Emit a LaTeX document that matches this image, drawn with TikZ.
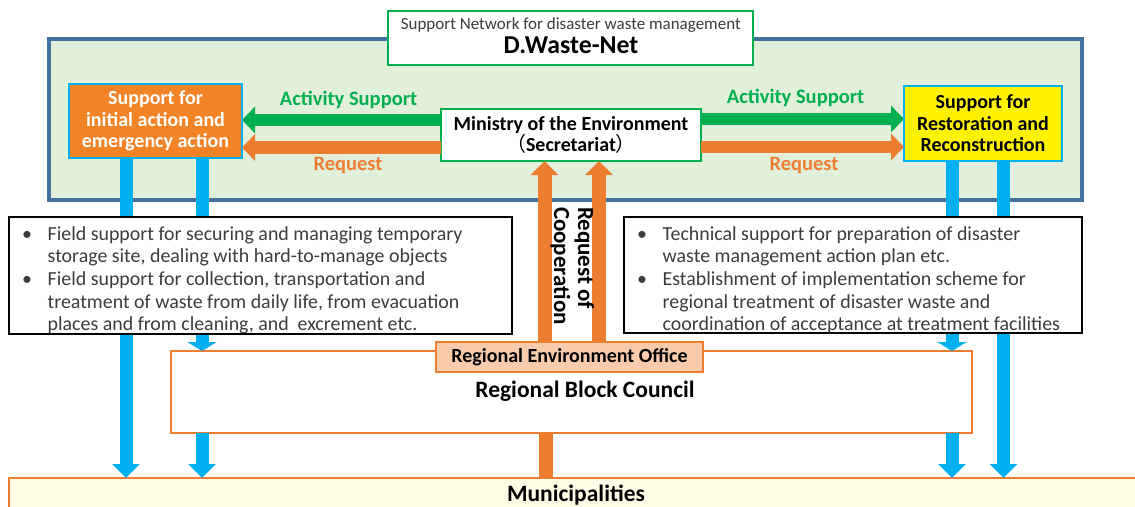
\documentclass[tikz,border=0pt]{standalone}
\usepackage{fontspec}
\setmainfont{Carlito}
\newfontfamily\cjk{Noto Sans CJK JP}
\usetikzlibrary{arrows.meta,calc}

\definecolor{netgreen}{HTML}{00B050}
\definecolor{reqorange}{HTML}{ED7D31}
\definecolor{boxorange}{HTML}{F28326}
\definecolor{skyblue}{HTML}{00B0F0}
\definecolor{netfill}{HTML}{E2EFDA}
\definecolor{netline}{HTML}{41719C}
\definecolor{officefill}{HTML}{F8CBAD}
\definecolor{munifill}{HTML}{FFFDE5}
\definecolor{bodygray}{HTML}{3C3C3C}

\newcommand\fsz[2]{\fontsize{#1}{#2}\selectfont}

\begin{document}
\begin{tikzpicture}[x=1pt,y=-1pt,
  every node/.style={inner sep=0pt,outer sep=0pt},
  plainbox/.style={draw,fill=white,line width=2pt},
  supportbox/.style={draw=skyblue,line width=2pt,align=center,font=\fsz{20}{21.5}\bfseries},
  listbox/.style={draw=black,fill=white,line width=2.5pt},
  listtext/.style={align=left,anchor=north west,text=bodygray,font=\fsz{19.9}{22.6}},
  orangebox/.style={draw=reqorange,line width=2pt},
  flowlabel/.style={anchor=base,font=\fsz{20.5}{24}\bfseries},
  hflow/.style={line width=12.5pt,-{Triangle[length=13pt,width=26pt]}},
  vflow/.style={draw=skyblue,line width=13pt,-{Triangle[length=14pt,width=27pt]}},
  vflowshort/.style={draw=skyblue,line width=13pt,-{Triangle[length=9pt,width=29pt]}},
  upflow/.style={draw=reqorange,line width=14pt,-{Triangle[length=14pt,width=27pt]}},
  titlefont/.style={anchor=base,font=\fsz{23.5}{26}\bfseries}]

\useasboundingbox (0,0) rectangle (1135,506);
\clip (0,0) rectangle (1135,506);

% network frame and its title
\node[draw=netline,fill=netfill,line width=3.5pt,minimum width=1033pt,minimum height=161pt] (net) at (565.5,119.5) {};
\node[plainbox,draw=netgreen,minimum width=365pt,minimum height=54pt] (title) at (570.5,38) {};
\node[anchor=base,font=\fsz{17}{20},text=bodygray] (titlesub) at (570.75,29.3) {Support Network for disaster waste management};
\node[anchor=base,font=\fsz{25.8}{28}\bfseries] (titlemain) at (571,53.3) {D.Waste-Net};

% support teams and the ministry
\node[supportbox,fill=boxorange,text=white,minimum width=173pt,minimum height=74pt] (initial) at (155.5,121) {Support for\\initial action and\\emergency action};
\node[supportbox,fill=yellow,minimum width=158pt,minimum height=75pt] (restore) at (983,123.5) {Support for\\Restoration and\\Reconstruction};
\node[plainbox,draw=netgreen,minimum width=260pt,minimum height=52pt,align=center,font=\fsz{20}{21}\bfseries] (ministry) at (571,135) {Ministry of the Environment\\{\cjk\mdseries （}Secretariat{\cjk\mdseries ）}};

% activity support and requests
\draw[hflow,draw=netgreen] ($(ministry.west)+(0,-15)$) coordinate (gl) -- (gl -| initial.east);
\draw[hflow,draw=reqorange] ($(ministry.west)+(0,12.5)$) coordinate (ol) -- (ol -| initial.east);
\draw[hflow,draw=netgreen] ($(ministry.east)+(0,-16)$) coordinate (gr) -- (gr -| restore.west);
\draw[hflow,draw=reqorange] ($(ministry.east)+(0,12)$) coordinate (or) -- (or -| restore.west);
\node[flowlabel,text=netgreen] (actleft) at (348.5,105) {Activity Support};
\node[flowlabel,text=netgreen] (actright) at (795.5,103) {Activity Support};
\node[flowlabel,text=reqorange] (reqleft) at (348,170) {Request};
\node[flowlabel,text=reqorange] (reqright) at (804,170) {Request};

% lower boxes
\node[orangebox,fill=white,minimum width=801pt,minimum height=82pt] (council) at (571.5,392) {};
\node[orangebox,fill=munifill,minimum width=1134pt,minimum height=30pt] (muni) at (576,493) {};

% field support flows
\draw[vflow] ($(initial.south)+(-29.5,0)$) coordinate (b1) -- (b1 |- muni.north);
\draw[vflowshort] ($(initial.south)+(46.5,0)$) coordinate (b2) -- (b2 |- council.north);
\draw[vflow] ($(council.south)+(-369.5,0)$) coordinate (b3) -- (b3 |- muni.north);
\draw[vflowshort] ($(restore.south)+(-31,0)$) coordinate (b4) -- (b4 |- council.north);
\draw[vflow] ($(council.south)+(380.5,0)$) coordinate (b5) -- (b5 |- muni.north);
\draw[vflow] ($(restore.south)+(20.5,0)$) coordinate (b6) -- (b6 |- muni.north);

% task lists
\node[listbox,minimum width=503pt,minimum height=117pt] (leftlist) at (260.5,275.5) {};
\node[listtext] (lefttext) at (22,224.5) {\strut\makebox[25.7pt][l]{•}Field support for securing and managing temporary\\
\hspace*{25.7pt}storage site, dealing with hard-to-manage objects\\
\makebox[25.7pt][l]{•}Field support for collection, transportation and\\
\hspace*{25.7pt}treatment of waste from daily life, from evacuation\\
\hspace*{25.7pt}places and from cleaning, and\ \ excrement etc.};
\node[listbox,minimum width=458pt,minimum height=116pt] (rightlist) at (853,275) {};
\node[listtext] (righttext) at (637,224.5) {\strut\makebox[25.7pt][l]{•}Technical support for preparation of disaster\\
\hspace*{25.7pt}waste management action plan etc.\\
\makebox[25.7pt][l]{•}Establishment of implementation scheme for\\
\hspace*{25.7pt}regional treatment of disaster waste and\\
\hspace*{25.7pt}coordination of acceptance at treatment facilities};

% regional office and cooperation requests
\node[orangebox,fill=officefill,minimum width=267pt,minimum height=30pt,font=\fsz{20}{22}\bfseries] (office) at (569.5,357) {Regional Environment Office};
\draw[upflow] ($(office.north)+(-25,0)$) coordinate (u1) -- (u1 |- ministry.south);
\draw[upflow] ($(office.north)+(29.5,0)$) coordinate (u2) -- (u2 |- ministry.south);
\node[rotate=-90,anchor=north west,align=left,font=\fsz{23}{24}\bfseries] (coop) at (594,207) {Request of\\Cooperation};
\draw[draw=reqorange,line width=14pt] ($(council.south)+(-25.5,0)$) coordinate (c1) -- (c1 |- muni.north);

\node[titlefont] (councillabel) at (585,397.3) {Regional Block Council};
\node[titlefont] (munilabel) at (576,501) {Municipalities};
\end{tikzpicture}
\end{document}
